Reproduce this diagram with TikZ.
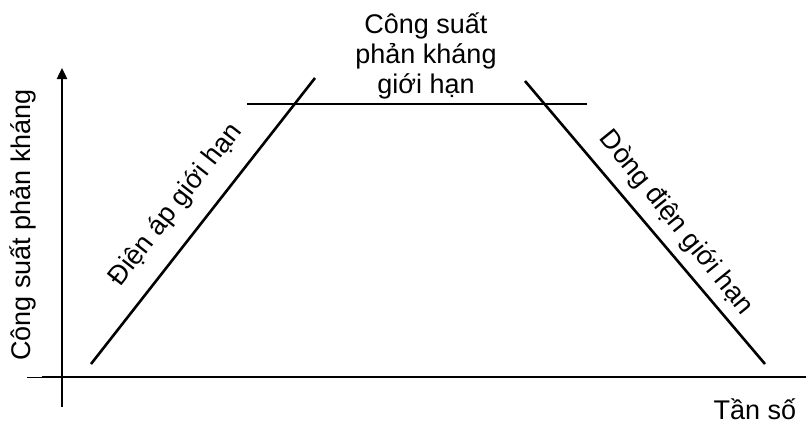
\documentclass[tikz,border=0pt]{standalone}
\usepackage{fontspec}
\setmainfont{Liberation Sans}
\usetikzlibrary{arrows.meta}
\begin{document}
\begin{tikzpicture}[x=1pt,y=-1pt,
  lbl/.style={font=\fontsize{27}{30}\selectfont, inner sep=0pt},
  curve/.style={line width=2.6pt},
  axis/.style={line width=2.4pt}]
\useasboundingbox (0,0) rectangle (806,421);
% axes
\coordinate (ytail) at (62,407);
\coordinate (yhead) at (62,68);
\coordinate (xtick) at (27,377);
\coordinate (xstart) at (42,377);
\coordinate (xend) at (806,377);
\draw[axis,-{Triangle[length=11pt,width=10pt]}] (ytail) -- (yhead);
\draw[line width=1pt] (xtick) -- (xstart);
\draw[axis] (xstart) -- (xend);
% limit lines
\coordinate (a1) at (91,364);
\coordinate (a2) at (315,78);
\coordinate (b1) at (247,104);
\coordinate (b2) at (587,104);
\coordinate (c1) at (525,81);
\coordinate (c2) at (765,364);
\draw[curve] (a1) -- (a2);
\draw[curve] (b1) -- (b2);
\draw[curve] (c1) -- (c2);
% labels
\node[lbl, align=center] (top) at (426,56) {Công suất\\phản kháng\\giới hạn};
\node[lbl, rotate=52] (left) at (176,205) {Điện áp giới hạn};
\node[lbl, rotate=-51] (right) at (676,223) {Dòng điện giới hạn};
\node[lbl, rotate=90] (ylab) at (23,225) {Công suất phản kháng};
\node[lbl, anchor=base] (xlab) at (755,419) {Tần số};
\end{tikzpicture}
\end{document}
